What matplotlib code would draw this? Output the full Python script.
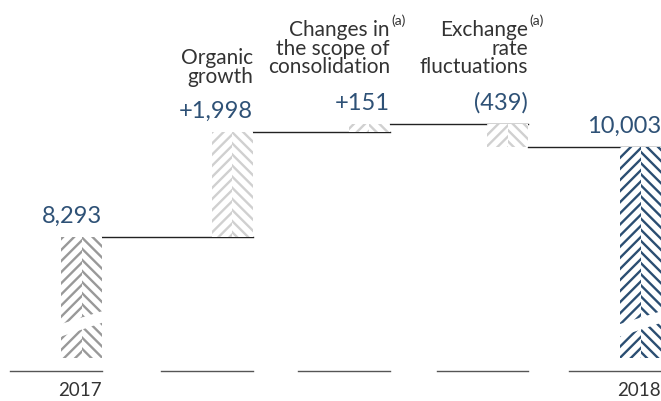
import matplotlib.pyplot as plt
import matplotlib
from matplotlib.patches import Polygon

matplotlib.rcParams.update({'font.family': ['Lato', 'DejaVu Sans'],
                            'hatch.linewidth': 1.7})

# data
start_val = 8293
changes = [1998, 151, -439]
end_val = 10003
years = ['2017', '2018']
change_labels = ['+1,998', '+151', '(439)']
total_labels = ['8,293', '10,003']
cat_lines = [['Organic', 'growth'],
             ['Changes in', 'the scope of', 'consolidation'],
             ['Exchange', 'rate', 'fluctuations']]
cat_note = [False, True, True]

# layout
x_pos = [0, 1.08, 2.06, 3.05, 4.0]
w = 0.293
base = 5988           # broken axis floor
k = 19.07             # value units per pixel
blue = '#2e5176'
navy = '#2b4e72'
dark = '#333333'
bar_cols = ['#999999', '#d0d0d0', '#d0d0d0', '#d0d0d0', navy]

fig = plt.figure(figsize=(6.61, 4.01), dpi=100)
ax = fig.add_axes([0, 0, 1, 1])
ax.set_xlim(-81.5 / 139.75, (661 - 81.5) / 139.75)
ax.set_ylim(base - 43 * k, base + 358 * k)
ax.axis('off')

# waterfall geometry
bottoms = [base]
heights = [start_val - base]
levels = [start_val]
cur = start_val
for c in changes:
    nxt = cur + c
    bottoms.append(min(cur, nxt))
    heights.append(abs(c))
    cur = nxt
    levels.append(cur)
bottoms.append(base)
heights.append(end_val - base)

def herring(x, b, h, col):
    # chevron look: two half bars with opposite stripes
    ax.bar(x - w / 4, h, w / 2, bottom=b, color='white', edgecolor=col,
           hatch='///', linewidth=0, zorder=3)
    ax.bar(x + w / 4, h, w / 2, bottom=b, color='white', edgecolor=col,
           hatch='\\\\\\', linewidth=0, zorder=3)

for i in range(5):
    herring(x_pos[i], bottoms[i], heights[i], bar_cols[i])

# axis break bands on the totals
for i in [0, 4]:
    x0 = x_pos[i] - w / 2 - 0.01
    x1 = x_pos[i] + w / 2 + 0.01
    poly = Polygon([(x0, base + 400), (x1, base + 680),
                    (x1, base + 900), (x0, base + 640)],
                   closed=True, facecolor='white', edgecolor='none', zorder=4)
    ax.add_patch(poly)

# connector lines
for i in range(4):
    ax.plot([x_pos[i] + w / 2, x_pos[i + 1] + w / 2], [levels[i], levels[i]],
            color='#222222', lw=1.0, zorder=2)

# baseline segments
for i in range(5):
    r = x_pos[i] + w / 2
    ax.plot([r - 0.655, r], [base - 13 * k, base - 13 * k],
            color='#555555', lw=1.0, zorder=2)

# value labels
tops = [bottoms[i] + heights[i] for i in range(5)]
tops[3] = levels[2]
vals = [total_labels[0]] + change_labels + [total_labels[1]]
for i in range(5):
    ax.annotate(vals[i], (x_pos[i] + w / 2, tops[i]), xytext=(0, 10.5),
                textcoords='offset points', ha='right', va='baseline',
                fontsize=17, color=blue)

# category labels
first_base = [64, 36, 36]
for j in range(3):
    xr = x_pos[j + 1] + w / 2
    for n, line in enumerate(cat_lines[j]):
        yb = base + (358 - (first_base[j] + 18.5 * n)) * k
        ax.text(xr, yb, line, ha='right', va='baseline', fontsize=15,
                color=dark)
    if cat_note[j]:
        yb = base + (358 - first_base[j]) * k
        ax.annotate('(a)', (xr, yb), xytext=(1, 8), textcoords='offset points',
                    ha='left', va='baseline', fontsize=10, color=dark)

# years
for i, yr in zip([0, 4], years):
    ax.text(x_pos[i] + w / 2, base - 38.5 * k, yr, ha='right', va='baseline',
            fontsize=13.5, color=dark)

plt.savefig('out.png', dpi=100)
